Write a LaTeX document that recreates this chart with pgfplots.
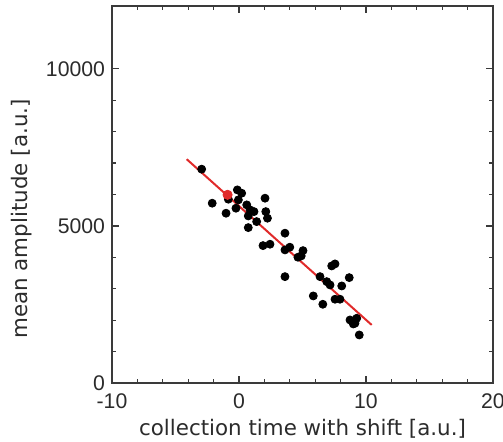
\documentclass[border=0pt]{standalone}
\usepackage{fontspec}
\setmainfont{DejaVu Sans}
\newfontfamily\tickfont{Liberation Sans}
\usepackage{pgfplots}
\usepackage{pgfplotstable}
\pgfplotsset{compat=1.18}
\usetikzlibrary{calc}
\definecolor{axisgray}{HTML}{3A3A3A}
\definecolor{fitred}{HTML}{E02A2A}
\definecolor{txt}{HTML}{2B2B2B}

\pgfplotstableread{
x y
-2.94 6806
-2.11 5723
-1.02 5404
-0.84 5850
-0.13 6146
0.21 6041
-0.05 5828
-0.24 5563
0.61 5669
0.87 5510
1.18 5455
0.73 5318
1.39 5137
0.73 4946
2.05 5882
2.11 5455
2.24 5245
1.89 4373
2.44 4417
3.62 4768
3.62 4236
4.00 4322
5.04 4213
4.90 4045
4.64 4003
3.62 3385
6.38 3385
7.30 3726
7.56 3790
6.91 3226
7.17 3121
8.09 3089
8.68 3354
5.85 2771
6.60 2506
7.56 2666
7.95 2666
8.74 2006
9.13 1901
9.27 2060
9.00 1879
9.47 1529
}\points

\begin{document}
\begin{tikzpicture}
\begin{axis}[name=ax, scale only axis, width=190.5pt, height=188.5pt,
  xmin=-10, xmax=20, ymin=0, ymax=12000,
  xtick={-10,0,10,20}, ytick={0,5000,10000},
  minor x tick num=4, minor y tick num=4,
  tick align=inside, major tick length=3.5pt, minor tick length=2pt,
  axis line style={draw=axisgray, line width=0.6pt},
  every tick/.style={draw=axisgray, line width=0.6pt},
  tick label style={font=\tickfont\fontsize{10.6}{12}\selectfont, text=txt},
  xticklabel style={yshift=-2pt},
  /pgf/number format/assume math mode=true,
  /pgf/number format/set thousands separator={},
  scaled x ticks=false, scaled y ticks=false,
  xlabel={collection time with shift [a.u.]},
  ylabel={mean amplitude [a.u.]},
  label style={font=\fontsize{10.7}{13}\selectfont, text=txt},
  xlabel style={yshift=2pt},
  ylabel style={at={(ticklabel cs:0.435)}},
  clip=false]
\addplot[only marks, mark=*, mark size=2pt, mark options={fill=black, draw=black}] table {\points};
\addplot[fitred, line width=1pt] coordinates {(-4.12,7124) (10.45,1847)};
\addplot[only marks, mark=*, mark size=2.3pt, mark options={fill=fitred, draw=fitred}] coordinates {(-0.9,5990)};
\end{axis}
\pgfresetboundingbox
\path ($(ax.south west)+(-56pt,-29.5pt)$) rectangle ($(ax.north east)+(5pt,3pt)$);
\end{tikzpicture}
\end{document}
